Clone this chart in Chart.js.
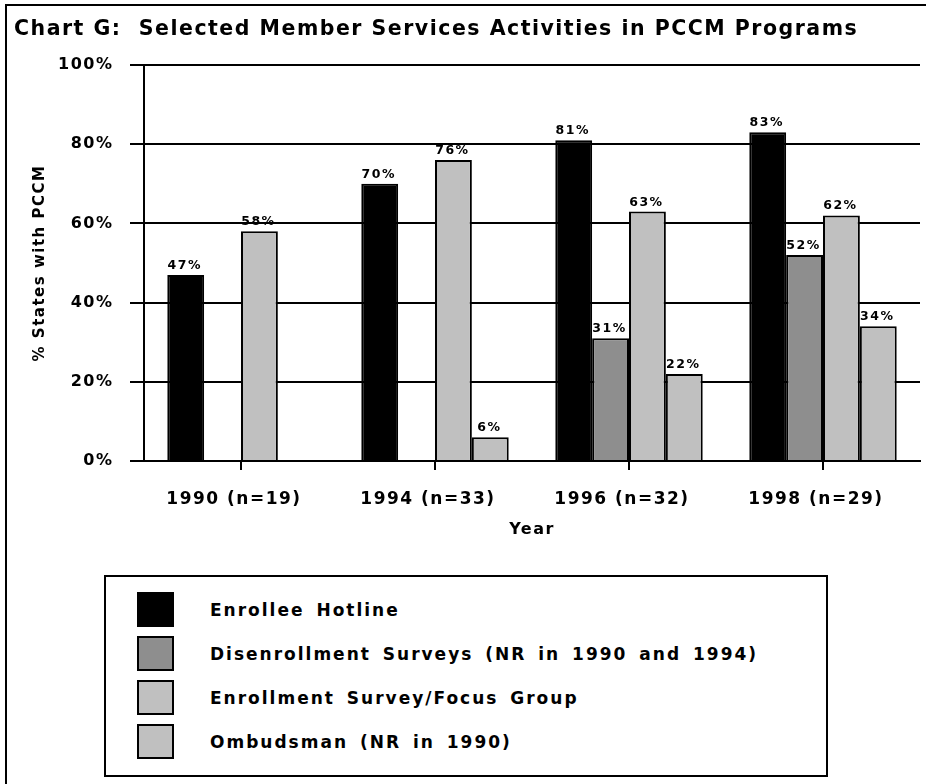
<!DOCTYPE html>
<html>
<head>
<meta charset="utf-8">
<script src="https://cdn.jsdelivr.net/npm/chart.js@4"></script>
<style>
  html, body { margin: 0; padding: 0; background: #ffffff; }
  body { width: 926px; height: 784px; position: relative; overflow: hidden; font-family: "DejaVu Sans", "Liberation Sans", Arial, sans-serif; }
  #frame { position: absolute; left: 5px; top: 4px; width: 1000px; height: 1000px; border-left: 2px solid #000; border-top: 2px solid #000; }
  #wrap { position: absolute; left: 0; top: 0; width: 926px; height: 560px; }
  #legend { position: absolute; left: 104px; top: 575px; width: 724px; height: 202px; box-sizing: border-box; border: 2px solid #000; background: #fff; }
  .item { position: absolute; left: 31px; height: 35px; display: flex; align-items: center; }
  .sw { width: 37px; height: 35px; box-sizing: border-box; border: 2px solid #000; }
  .lbl { margin-left: 36px; font-weight: bold; font-size: 17px; letter-spacing: 2px; word-spacing: 4px; color: #000; white-space: nowrap; }
</style>
</head>
<body>
<div id="frame"></div>
<div id="wrap"><canvas id="c" width="926" height="560"></canvas></div>
<div id="legend"></div>
<script>
// ---- data ----
const categories = ['1990 (n=19)', '1994 (n=33)', '1996 (n=32)', '1998 (n=29)'];
const seriesNames = [
  'Enrollee Hotline',
  'Disenrollment Surveys (NR in 1990 and 1994)',
  'Enrollment Survey/Focus Group',
  'Ombudsman (NR in 1990)'
];
const enrolleeHotline      = [47, 70, 81, 83];
const disenrollmentSurveys = [null, null, 31, 52];
const enrollmentSurvey     = [58, 76, 63, 62];
const ombudsman            = [null, 6, 22, 34];
const yTickValues = [0, 20, 40, 60, 80, 100];
const titleText = 'Chart G:  Selected Member Services Activities in PCCM Programs';
const yTitle = '% States with PCCM';
const xTitle = 'Year';

// ---- styles ----
const colors = ['#000000', '#8e8e8e', '#c0c0c0', '#c0c0c0'];
const FONT = '"DejaVu Sans", "Liberation Sans", Arial, sans-serif';
const SPACING = '1.5px';

const seriesValues = [enrolleeHotline, disenrollmentSurveys, enrollmentSurvey, ombudsman];

// legend (HTML)
const legendEl = document.getElementById('legend');
seriesNames.forEach((name, i) => {
  const it = document.createElement('div');
  it.className = 'item';
  it.style.top = (15 + 44 * i) + 'px';
  const sw = document.createElement('div');
  sw.className = 'sw';
  sw.style.background = colors[i];
  const lb = document.createElement('div');
  lb.className = 'lbl';
  lb.textContent = name;
  it.appendChild(sw); it.appendChild(lb);
  legendEl.appendChild(it);
});

const spacingPlugin = {
  id: 'spacing',
  beforeUpdate(chart) { chart.ctx.letterSpacing = SPACING; },
  beforeLayout(chart) { chart.ctx.letterSpacing = SPACING; },
  beforeDraw(chart) { chart.ctx.letterSpacing = SPACING; }
};

const valueLabels = {
  id: 'valueLabels',
  afterDatasetsDraw(chart) {
    const ctx = chart.ctx;
    ctx.save();
    ctx.letterSpacing = SPACING;
    ctx.font = 'bold 12.5px ' + FONT;
    ctx.fillStyle = '#000';
    ctx.textAlign = 'center';
    ctx.textBaseline = 'bottom';
    chart.data.datasets.forEach((ds, di) => {
      const meta = chart.getDatasetMeta(di);
      meta.data.forEach((bar, i) => {
        const v = ds.data[i];
        if (v === null || v === undefined) return;
        ctx.fillText(v + '%', bar.x - 1, bar.y - 3);
      });
    });
    ctx.restore();
  }
};

new Chart(document.getElementById('c'), {
  type: 'bar',
  data: {
    labels: categories,
    datasets: seriesNames.map((n, i) => ({
      label: n,
      data: seriesValues[i],
      backgroundColor: colors[i],
      borderColor: '#000000',
      borderWidth: 2,
      borderSkipped: 'bottom',
      categoryPercentage: 0.76,
      barPercentage: 1.0
    }))
  },
  options: {
    responsive: false,
    animation: false,
    devicePixelRatio: 1,
    layout: { padding: { left: 14, right: 6, top: 0, bottom: 0 } },
    plugins: {
      legend: { display: false },
      tooltip: { enabled: false },
      title: {
        display: true,
        text: titleText,
        align: 'start',
        color: '#000',
        font: { family: FONT, size: 20.5, weight: 'bold', lineHeight: 1.2 },
        padding: { top: 17, bottom: 23.4 }
      }
    },
    scales: {
      x: {
        grid: { display: true, drawOnChartArea: false, drawTicks: true, tickLength: 9, lineWidth: 2, color: '#000', offset: false },
        border: { display: true, color: '#000', width: 2 },
        ticks: { color: '#000', font: { family: FONT, size: 17, weight: 'bold' }, padding: 19, maxRotation: 0, autoSkip: false, labelOffset: -7 },
        title: { display: true, text: xTitle, color: '#000', font: { family: FONT, size: 16, weight: 'bold' }, padding: { top: 0, bottom: 20.4 } },
        afterFit(scale) { scale.height = 99; }
      },
      y: {
        min: 0, max: 100,
        afterBuildTicks(scale) { scale.ticks = yTickValues.map(v => ({ value: v })); },
        grid: { display: true, drawOnChartArea: true, drawTicks: true, tickLength: 14, lineWidth: 2, color: '#000' },
        border: { display: true, color: '#000', width: 2 },
        ticks: { color: '#000', font: { family: FONT, size: 16, weight: 'bold' }, padding: 16.5, callback: v => v + '%' },
        title: { display: true, text: yTitle, color: '#000', font: { family: FONT, size: 15, weight: 'bold', lineHeight: 1.2 }, padding: { top: 17, bottom: 0 } },
        afterFit(scale) { scale.width = 130; }
      }
    }
  },
  plugins: [spacingPlugin, valueLabels]
});
</script>
</body>
</html>
